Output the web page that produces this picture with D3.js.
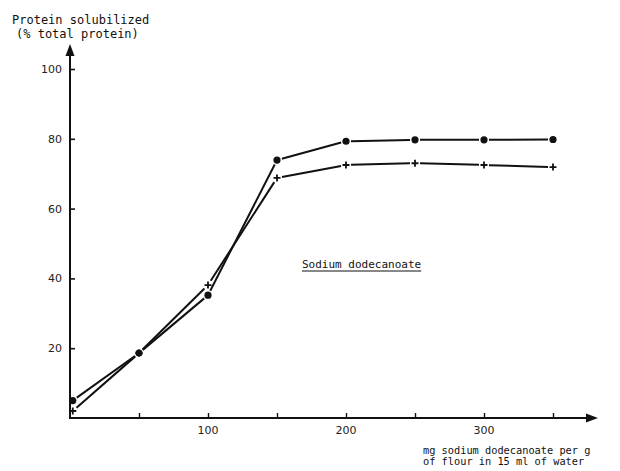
<!DOCTYPE html>
<html><head><meta charset="utf-8">
<script src="https://cdn.jsdelivr.net/npm/d3@7"></script>
<style>body{margin:0;background:#fff}svg{display:block}</style>
</head><body>
<svg id="c" width="620" height="471"></svg>
<script>
const xValues = [2, 50, 100, 150, 200, 250, 300, 350];
const circleSeries = [5, 18.6, 35.2, 73.9, 79.3, 79.7, 79.7, 79.8];
const plusSeries = [2, 18.6, 38.1, 68.8, 72.5, 73.0, 72.5, 71.9];
const yTicks = [20, 40, 60, 80, 100];
const xTickValues = [50, 100, 150, 200, 250, 300, 350];
const xTickLabels = {100: "100", 200: "200", 300: "300"};
const yTitle = ["Protein solubilized", "(% total protein)"];
const xTitle = ["mg sodium dodecanoate per g", "of flour in 15 ml of water"];
const annotation = "Sodium dodecanoate";

const svg = d3.select("#c");
const x = d3.scaleLinear().domain([0, 350]).range([70, 553]);
const y = d3.scaleLinear().domain([0, 100]).range([418, 69]);
const mono = "'DejaVu Sans Mono', 'Liberation Mono', monospace";
const ink = "#111";

// axes
const yAxis = d3.axisRight(y).tickValues(yTicks).tickSize(5).tickFormat("");
const gy = svg.append("g").attr("transform", "translate(70,0)").call(yAxis);
gy.select(".domain").remove();
gy.selectAll(".tick line").attr("stroke", ink).attr("stroke-width", 1.6);
svg.append("line").attr("x1", 70).attr("x2", 70).attr("y1", y(0)).attr("y2", 54)
  .attr("stroke", ink).attr("stroke-width", 2);
svg.append("path").attr("d", "M70,44 L65.5,56 L74.5,56 Z").attr("fill", ink);
svg.selectAll(".ylab").data(yTicks).join("text")
  .attr("x", 62).attr("y", d => y(d) + 4).attr("text-anchor", "end")
  .attr("font-family", "'DejaVu Sans', sans-serif").attr("font-size", 11).attr("fill", "#222")
  .text(d => d);

const xAxis = d3.axisTop(x).tickValues(xTickValues).tickSize(5).tickFormat("");
const gx = svg.append("g").attr("transform", `translate(0,${y(0)})`).call(xAxis);
gx.select(".domain").remove();
gx.selectAll(".tick line").attr("stroke", ink).attr("stroke-width", 1.4);
svg.append("line").attr("x1", 69).attr("x2", 588).attr("y1", y(0)).attr("y2", y(0))
  .attr("stroke", ink).attr("stroke-width", 2);
svg.append("path").attr("d", `M598,${y(0)} L586,${y(0)-4.5} L586,${y(0)+4.5} Z`).attr("fill", ink);
svg.selectAll(".xlab").data(Object.keys(xTickLabels).map(Number)).join("text")
  .attr("x", d => x(d)).attr("y", 434).attr("text-anchor", "middle")
  .attr("font-family", "'DejaVu Sans', sans-serif").attr("font-size", 11).attr("fill", "#222")
  .text(d => xTickLabels[d]);

// titles
svg.append("text").attr("x", 12).attr("y", 24).attr("font-family", mono).attr("font-size", 12)
  .attr("fill", ink).text(yTitle[0]);
svg.append("text").attr("x", 16).attr("y", 38).attr("font-family", mono).attr("font-size", 12)
  .attr("fill", ink).text(yTitle[1]);
svg.append("text").attr("x", 423).attr("y", 454).attr("font-family", mono).attr("font-size", 10.3)
  .attr("fill", ink).text(xTitle[0]);
svg.append("text").attr("x", 423).attr("y", 465).attr("font-family", mono).attr("font-size", 10.3)
  .attr("fill", ink).text(xTitle[1]);
const ann = svg.append("text").attr("x", 302).attr("y", 268).attr("font-family", mono)
  .attr("font-size", 11).attr("fill", ink).text(annotation);
const annW = ann.node().getComputedTextLength();
svg.append("line").attr("x1", 302).attr("x2", 302 + annW).attr("y1", 271).attr("y2", 271)
  .attr("stroke", ink).attr("stroke-width", 1);

// series lines with small gaps near markers
function drawSeries(vals, gap) {
  const pts = xValues.map((d, i) => [x(d), y(vals[i])]);
  for (let i = 0; i < pts.length - 1; i++) {
    const [x1, y1] = pts[i], [x2, y2] = pts[i + 1];
    const L = Math.hypot(x2 - x1, y2 - y1);
    const ux = (x2 - x1) / L, uy = (y2 - y1) / L;
    svg.append("line")
      .attr("x1", x1 + ux * gap).attr("y1", y1 + uy * gap)
      .attr("x2", x2 - ux * gap).attr("y2", y2 - uy * gap)
      .attr("stroke", ink).attr("stroke-width", 2);
  }
  return pts;
}
const cPts = drawSeries(circleSeries, 5);
const pPts = drawSeries(plusSeries, 5);
svg.selectAll(".cm").data(cPts).join("circle")
  .attr("cx", d => d[0]).attr("cy", d => d[1]).attr("r", 3.6).attr("fill", ink);
svg.selectAll(".pm").data(pPts).join("path")
  .attr("d", d => `M${d[0]-3.5},${d[1]} L${d[0]+3.5},${d[1]} M${d[0]},${d[1]-3.5} L${d[0]},${d[1]+3.5}`)
  .attr("stroke", ink).attr("stroke-width", 1.8);
</script>
</body></html>
